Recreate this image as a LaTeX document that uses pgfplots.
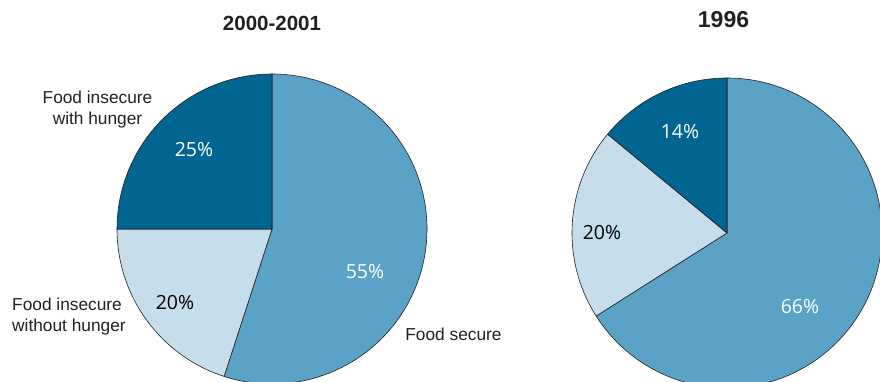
\documentclass[border=0pt]{standalone}
\usepackage{pgfplots}
\usepackage{pgfplotstable}
\pgfplotsset{compat=1.18}
\usepackage{fontspec}
\setmainfont{Liberation Sans}
\newfontfamily\pctfont{Open Sans}
\definecolor{cdark}{RGB}{0,102,145}
\definecolor{cmid}{RGB}{91,163,198}
\definecolor{clight}{RGB}{198,221,235}
\definecolor{txt}{RGB}{35,31,32}

% shares in percent: a = 2000-2001, b = 1996
\pgfplotstableread{
cat      a   b
secure   55  66
without  20  20
with     25  14
}\piedata
\pgfplotstablegetelem{0}{a}\of\piedata \let\aS\pgfplotsretval
\pgfplotstablegetelem{1}{a}\of\piedata \let\aW\pgfplotsretval
\pgfplotstablegetelem{2}{a}\of\piedata \let\aH\pgfplotsretval
\pgfplotstablegetelem{0}{b}\of\piedata \let\bS\pgfplotsretval
\pgfplotstablegetelem{1}{b}\of\piedata \let\bW\pgfplotsretval
\pgfplotstablegetelem{2}{b}\of\piedata \let\bH\pgfplotsretval

\begin{document}
\begin{tikzpicture}
\useasboundingbox (0,0) rectangle (880pt,381pt);
\begin{axis}[
  scale only axis, width=880pt, height=381pt,
  xmin=0, xmax=880, ymin=0, ymax=381,
  hide axis, clip=true,
]
\tikzset{wedge/.style={draw=txt, line width=0.6pt}}
% ---- left pie (2000-2001), centre (272,152), r=155
\pgfmathsetmacro{\aA}{90-3.6*\aS}
\pgfmathsetmacro{\aB}{\aA-3.6*\aW}
\pgfmathsetmacro{\aC}{\aB-3.6*\aH}
\filldraw[wedge, fill=cmid] (axis cs:272,152) -- +(90:155pt) arc[start angle=90, end angle=\aA, radius=155pt] -- cycle;
\filldraw[wedge, fill=clight] (axis cs:272,152) -- +(\aA:155pt) arc[start angle=\aA, end angle=\aB, radius=155pt] -- cycle;
\filldraw[wedge, fill=cdark] (axis cs:272,152) -- +(\aB:155pt) arc[start angle=\aB, end angle=\aC, radius=155pt] -- cycle;
% ---- right pie (1996), centre (727,148), r=155
\pgfmathsetmacro{\bA}{90-3.6*\bS}
\pgfmathsetmacro{\bB}{\bA-3.6*\bW}
\pgfmathsetmacro{\bC}{\bB-3.6*\bH}
\filldraw[wedge, fill=cmid] (axis cs:727,148) -- +(90:155pt) arc[start angle=90, end angle=\bA, radius=155pt] -- cycle;
\filldraw[wedge, fill=clight] (axis cs:727,148) -- +(\bA:155pt) arc[start angle=\bA, end angle=\bB, radius=155pt] -- cycle;
\filldraw[wedge, fill=cdark] (axis cs:727,148) -- +(\bB:155pt) arc[start angle=\bB, end angle=\bC, radius=155pt] -- cycle;

% titles
\node[font=\fontsize{20.5}{24}\selectfont\bfseries, text=txt, inner sep=0] at (axis cs:272,358) {2000-2001};
\node[font=\fontsize{23}{27}\selectfont\bfseries, text=txt, inner sep=0] at (axis cs:723.5,361) {1996};

% category labels
\node[font=\fontsize{17.3}{21}\selectfont, text=txt, align=center, inner sep=0] at (axis cs:97.5,271) {Food insecure\\with hunger};
\node[font=\fontsize{17.3}{21}\selectfont, text=txt, align=left, inner sep=0, anchor=west] at (axis cs:12,64) {Food insecure\\without hunger};
\node[font=\fontsize{17.3}{21}\selectfont, text=txt, inner sep=0] at (axis cs:453.5,47) {Food secure};

% percentages
\tikzset{pct/.style={font=\fontsize{19.5}{22}\selectfont\pctfont, inner sep=0}}
\node[pct, text=white] at (axis cs:194,231) {\aH\%};
\node[pct, text=white] at (axis cs:365,109) {\aS\%};
\node[pct, text=black] at (axis cs:175,78) {\aW\%};
\node[pct, text=white] at (axis cs:680,249) {\bH\%};
\node[pct, text=black] at (axis cs:602,148) {\bW\%};
\node[pct, text=white] at (axis cs:800,74) {\bS\%};
\end{axis}
\end{tikzpicture}
\end{document}
